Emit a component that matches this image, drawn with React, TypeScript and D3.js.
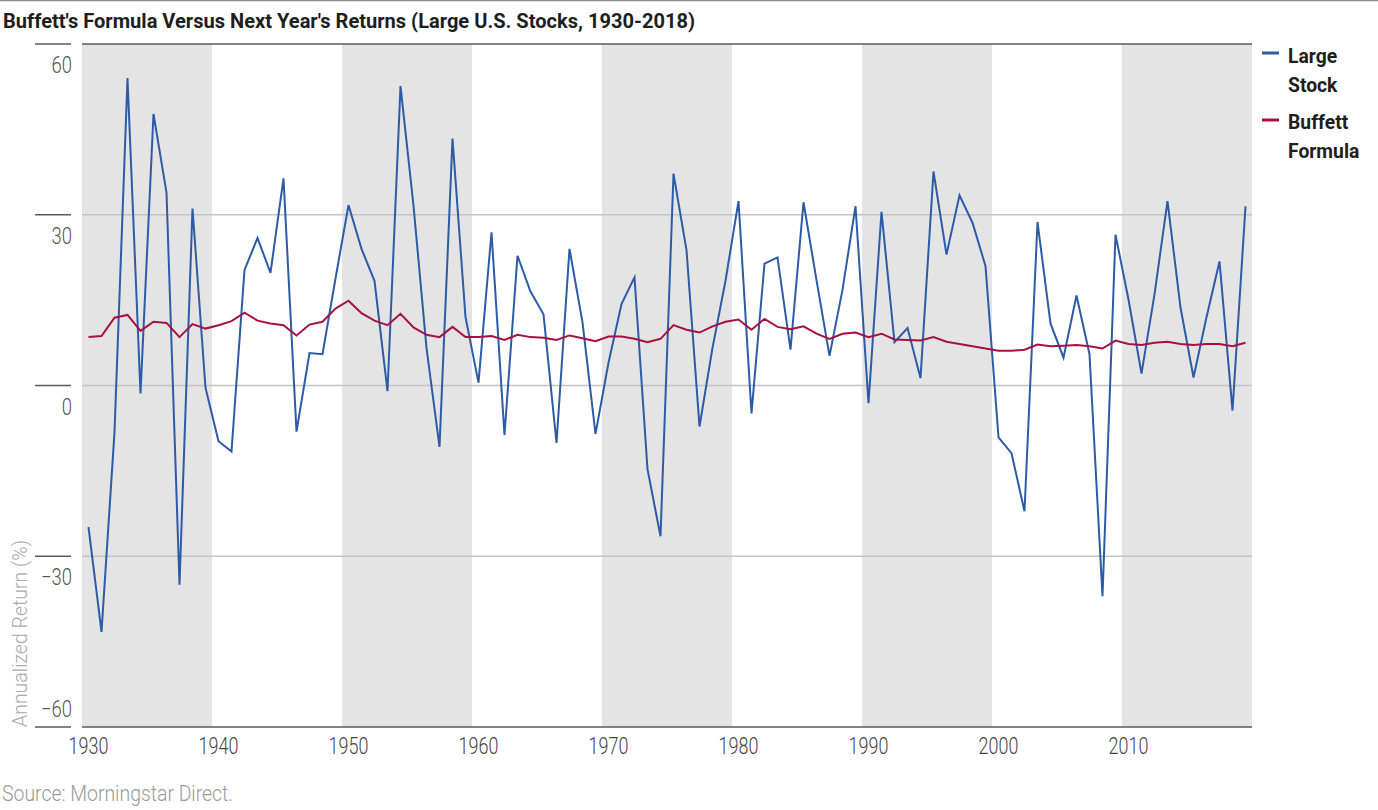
import React from "react";
import * as d3 from "d3";

const years: number[] = d3.range(1930, 2020);

const largeStock: number[] = [
  -24.9, -43.3, -8.2, 54.0, -1.4, 47.7, 33.9, -35.0, 31.1, -0.4,
  -9.8, -11.6, 20.3, 25.9, 19.8, 36.4, -8.1, 5.7, 5.5, 18.8,
  31.7, 24.0, 18.4, -1.0, 52.6, 31.6, 6.6, -10.8, 43.4, 12.0,
  0.5, 26.9, -8.7, 22.8, 16.5, 12.5, -10.1, 24.0, 11.1, -8.5,
  4.0, 14.3, 19.0, -14.7, -26.5, 37.2, 23.8, -7.2, 6.6, 18.4,
  32.4, -4.9, 21.4, 22.5, 6.3, 32.2, 18.5, 5.2, 16.8, 31.5,
  -3.1, 30.5, 7.6, 10.1, 1.3, 37.6, 23.0, 33.4, 28.6, 21.0,
  -9.1, -11.9, -22.1, 28.7, 10.9, 4.9, 15.8, 5.5, -37.0, 26.5,
  15.1, 2.1, 16.0, 32.4, 13.7, 1.4, 12.0, 21.8, -4.4, 31.5,
];

const buffettFormula: number[] = [
  8.5, 8.7, 11.9, 12.4, 9.6, 11.2, 11.0, 8.5, 10.8, 10.0,
  10.6, 11.3, 12.8, 11.4, 10.9, 10.6, 8.8, 10.7, 11.2, 13.5,
  14.9, 12.7, 11.4, 10.6, 12.6, 10.2, 8.9, 8.5, 10.3, 8.5,
  8.5, 8.7, 8.0, 8.9, 8.5, 8.4, 8.0, 8.8, 8.3, 7.8,
  8.6, 8.6, 8.2, 7.6, 8.2, 10.6, 9.8, 9.3, 10.4, 11.2,
  11.6, 9.8, 11.7, 10.3, 9.9, 10.4, 9.1, 8.2, 9.1, 9.3,
  8.5, 9.1, 8.1, 8.0, 7.9, 8.5, 7.7, 7.3, 6.9, 6.5,
  6.1, 6.1, 6.3, 7.2, 6.9, 7.0, 7.1, 6.9, 6.5, 7.9,
  7.3, 7.1, 7.5, 7.7, 7.3, 7.1, 7.3, 7.3, 6.9, 7.5,
];

const yTicks: number[] = [60, 30, 0, -30, -60];
const xTickYears: number[] = [1930, 1940, 1950, 1960, 1970, 1980, 1990, 2000, 2010];
const shadedDecades: number[] = [1930, 1950, 1970, 1990, 2010];

const seriesNames = ["Large Stock", "Buffett Formula"];

const BLUE = "#2c5ca8";
const RED = "#a8113f";
const FONT = "Roboto, 'Liberation Sans', sans-serif";

export default function App() {
  const W = 1378;
  const H = 810;
  const x = d3.scaleBand<number>().domain(years).range([82, 1252]).padding(0);
  const y = d3.scaleLinear().domain([-60, 60]).range([727, 44]);
  const cx = (yr: number) => (x(yr) as number) + x.bandwidth() / 2;

  const line = d3
    .line<number>()
    .x((_, i) => cx(years[i]))
    .y((d) => y(d));

  const fmt = (v: number) => (v < 0 ? "\u2212" + Math.abs(v) : String(v));

  return (
    <svg
      width={W}
      height={H}
      style={{ position: "fixed", left: 0, top: 0, background: "#fff" }}
      fontFamily={FONT}
    >
      <line x1={0} x2={W} y1={0.5} y2={0.5} stroke="#8a8a8a" strokeWidth={1.5} />
      <text
        x={3}
        y={28}
        fontSize={21}
        fontWeight={700}
        fill="#1e1e1e"
        textLength={692}
        lengthAdjust="spacingAndGlyphs"
      >
        Buffett's Formula Versus Next Year's Returns (Large U.S. Stocks, 1930-2018)
      </text>

      {shadedDecades.map((d) => (
        <rect
          key={d}
          x={x(d) as number}
          y={y(60)}
          width={(x(d + 9) as number) + x.bandwidth() - (x(d) as number)}
          height={y(-60) - y(60)}
          fill="#e4e4e4"
        />
      ))}

      {yTicks
        .filter((t) => t !== 60 && t !== -60)
        .map((t) => (
          <line key={t} x1={82} x2={1252} y1={y(t)} y2={y(t)} stroke="#c4c4c4" strokeWidth={1.5} />
        ))}
      <line x1={82} x2={1252} y1={y(60)} y2={y(60)} stroke="#5a5a5a" strokeWidth={1.5} />
      <line x1={82} x2={1252} y1={y(-60)} y2={y(-60)} stroke="#5a5a5a" strokeWidth={1.5} />

      {yTicks.map((t) => (
        <g key={t}>
          <line x1={35} x2={71} y1={y(t)} y2={y(t)} stroke="#5a5a5a" strokeWidth={1.5} />
          <g transform={`translate(72,${t === -60 ? y(t) - 10 : y(t) + 29})`}>
            <text
              transform="scale(0.8,1)"
              textAnchor="end"
              fontSize={23}
              fontWeight={300}
              fill="#555"
            >
              {fmt(t)}
            </text>
          </g>
        </g>
      ))}

      {xTickYears.map((yr) => (
        <g key={yr} transform={`translate(${cx(yr)},754)`}>
          <text transform="scale(0.78,1)" textAnchor="middle" fontSize={23} fontWeight={300} fill="#444">
            {yr}
          </text>
        </g>
      ))}

      <text
        transform={`translate(27,727) rotate(-90)`}
        fontSize={21}
        fontWeight={300}
        fill="#aaa"
        textLength={187}
        lengthAdjust="spacingAndGlyphs"
      >
        Annualized Return (%)
      </text>

      <path d={line(largeStock) ?? ""} fill="none" stroke={BLUE} strokeWidth={2} strokeLinejoin="miter" />
      <path d={line(buffettFormula) ?? ""} fill="none" stroke={RED} strokeWidth={2} />

      {/* Legend */}
      <line x1={1262} x2={1279} y1={53} y2={53} stroke={BLUE} strokeWidth={3} />
      <g transform="translate(1288,63)">
        <text transform="scale(0.92,1)" fontSize={21} fontWeight={700} fill="#1e1e1e">
          <tspan x={0} y={0}>{seriesNames[0].split(" ")[0]}</tspan>
          <tspan x={0} y={29}>{seriesNames[0].split(" ")[1]}</tspan>
        </text>
      </g>
      <line x1={1262} x2={1279} y1={120} y2={120} stroke={RED} strokeWidth={3} />
      <g transform="translate(1288,129)">
        <text transform="scale(0.92,1)" fontSize={21} fontWeight={700} fill="#1e1e1e">
          <tspan x={0} y={0}>{seriesNames[1].split(" ")[0]}</tspan>
          <tspan x={0} y={29}>{seriesNames[1].split(" ")[1]}</tspan>
        </text>
      </g>

      <text
        x={2}
        y={801}
        fontSize={22}
        fontWeight={300}
        fill="#9a9a9a"
        textLength={231}
        lengthAdjust="spacingAndGlyphs"
      >
        Source: Morningstar Direct.
      </text>
    </svg>
  );
}
